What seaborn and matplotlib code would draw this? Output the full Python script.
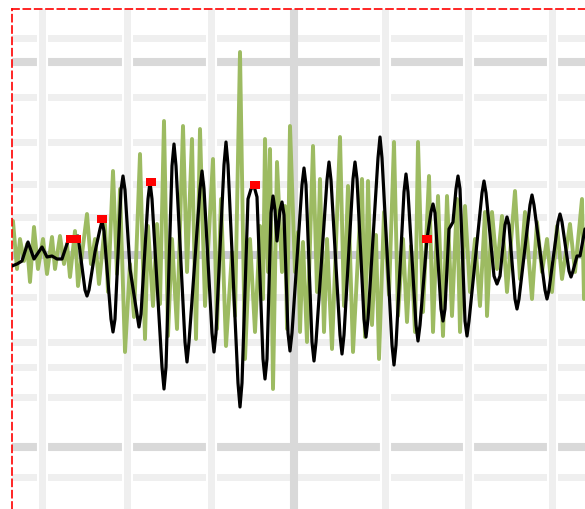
import numpy as np
import pandas as pd
import matplotlib
matplotlib.use("Agg")
import matplotlib.pyplot as plt
import seaborn as sns

# ---- data: (sample index, amplitude in counts) ----
# raw trace (green)
raw_pts = [
    (1, 34), (5, -14), (8, 16), (12, -6), (15, 11), (18, -27), (22, 28),
    (26, -14), (31, 16), (35, -19), (40, 18), (43, -14), (48, 19), (52, -9),
    (55, 11), (58, -22), (63, 24), (66, -31), (75, 41), (79, -9), (83, 16),
    (87, -29), (93, 31), (96, -37), (101, 84), (105, -19), (108, 66),
    (113, -97), (118, -9), (122, -62), (128, 101), (133, -84), (136, 29),
    (141, -51), (145, 31), (148, -49), (152, 134), (156, -81), (160, 16),
    (165, -74), (171, 129), (175, -17), (180, 116), (184, -84), (188, 126),
    (193, -51), (201, 96), (205, -74), (209, 56), (214, -91), (220, 3),
    (223, -61), (228, 203), (233, -104), (238, 16), (243, -77), (248, 29),
    (251, -44), (253, 116), (256, -17), (258, 106), (261, -134), (265, 93),
    (270, -17), (273, 49), (275, -74), (278, 129), (283, -17), (286, 23),
    (288, -77), (291, 13), (295, -87), (301, 109), (305, -37), (308, 76),
    (312, -77), (315, 16), (320, -94), (328, 118), (332, -51), (336, 69),
    (341, -97), (350, 76), (353, -82), (356, 74), (360, -70), (364, 20),
    (367, -104), (372, 43), (377, -40), (382, 113), (386, -61), (391, 16),
    (395, -67), (399, 9), (403, -77), (406, 113), (411, -57), (417, 79),
    (421, -77), (426, 59), (431, -81), (435, 59), (440, -61), (445, 56),
    (448, -77), (453, 49), (458, -37), (463, 16), (468, -51), (473, 43),
    (475, -61), (480, 43), (485, -14), (490, 39), (495, -37), (503, 64),
    (508, -24), (513, 43), (520, -44), (525, 33), (530, -17), (535, 16),
    (540, -37), (545, 29), (550, -24), (558, 31), (563, -17), (570, 56),
    (572, -44),
]

# band-passed trace (black)
bp_pts = [
    (0, -11), (5, -9), (10, -6), (16, 13), (22, -4), (30, 8), (35, -2),
    (40, -1), (45, -4), (50, -4), (56, 14), (60, 17), (66, 19), (73, -35),
    (75, -41), (77, -35), (83, 3), (88, 26), (90, 34), (92, 24), (99, -64),
    (101, -77), (103, -64), (109, 65), (111, 79), (113, 65), (118, -14),
    (125, -59), (127, -72), (129, -59), (136, 56), (138, 73), (140, 56),
    (150, -112), (152, -134), (154, -112), (160, 89), (162, 111), (164, 89),
    (173, -87), (175, -107), (177, -87), (188, 66), (190, 84), (192, 66),
    (200, -78), (202, -97), (204, -78), (212, 90), (214, 113), (216, 90),
    (226, -128), (228, -152), (230, -128), (236, 56), (239, 66), (242, 69),
    (245, 58), (251, -104), (253, -124), (255, -104), (259, 42), (261, 59),
    (263, 45), (265, 14), (268, 45), (270, 53), (272, 40), (276, -78),
    (278, -96), (280, -78), (290, 70), (292, 87), (294, 70), (300, -87),
    (302, -106), (304, -87), (315, 75), (317, 93), (319, 75), (328, -80),
    (330, -99), (332, -80), (341, 76), (343, 93), (345, 76), (352, -64),
    (354, -82), (356, -64), (366, 97), (368, 118), (370, 97), (380, -90),
    (382, -110), (384, -90), (392, 63), (394, 81), (396, 63), (404, -70),
    (406, -86), (408, -70), (415, 16), (419, 43), (421, 51), (423, 42),
    (429, -54), (431, -66), (433, -54), (437, 26), (441, 33), (444, 66),
    (446, 79), (448, 66), (453, -66), (455, -81), (457, -66), (470, 62),
    (472, 74), (474, 62), (482, -21), (485, -29), (488, -21), (493, 30),
    (495, 38), (497, 30), (503, -44), (505, -54), (507, -44), (518, 50),
    (520, 60), (522, 50), (533, -35), (535, -44), (537, -35), (546, 33),
    (548, 41), (550, 33), (557, -16), (559, -22), (561, -16), (565, -1),
    (568, -1), (573, 26),
]

# picks (red)
pick_t = [59, 64, 90, 139, 243, 415]
pick_amp = [16, 16, 36, 73, 70, 16]

# grid levels
h_light = [217, 158, 113, 71, 38, -42, -87, -112, -142, -222]
h_dark = [193, -192]
v_light = [29.7, 115.3, 198.7, 373, 456.3, 539.7]
v_dark = [282.3]

raw_df = pd.DataFrame(raw_pts, columns=["t", "amp"])
bp_df = pd.DataFrame(bp_pts, columns=["t", "amp"])
pick_df = pd.DataFrame({"t": pick_t, "amp": pick_amp})

sns.set_style("white")
fig = plt.figure(figsize=(5.85, 5.10), dpi=100)
ax = fig.add_axes([11.5 / 585, 0, 1 - 11.5 / 585, 500 / 510])

for y in h_light:
    ax.axhline(y, color="#efefef", lw=5, zorder=1)
for y in h_dark:
    ax.axhline(y, color="#d9d9d9", lw=5.8, zorder=1)
for x in v_light:
    ax.axvline(x, color="white", lw=8, zorder=1.1)
    ax.axvline(x, color="#efefef", lw=5, zorder=1.2)
for x in v_dark:
    ax.axvline(x, color="#d9d9d9", lw=5.8, zorder=1.2)
ax.axhline(0, color="#c9c9d1", lw=5.8, zorder=1.3)

sns.lineplot(data=raw_df, x="t", y="amp", sort=False, estimator=None,
             color="#9dbb62", lw=2.8, ax=ax, zorder=2)
sns.lineplot(data=bp_df, x="t", y="amp", sort=False, estimator=None,
             color="black", lw=2.3, ax=ax, zorder=3)
rect = [(-1.25, -1), (1.25, -1), (1.25, 1), (-1.25, 1)]
sns.scatterplot(data=pick_df, x="t", y="amp", marker=rect, s=45, color="red",
                edgecolor="none", linewidth=0, ax=ax, zorder=4)

ax.set_xlim(-0.5, 573)
ax.set_ylim(-254, 246)
ax.set_xticks([])
ax.set_yticks([])
ax.set_xlabel("")
ax.set_ylabel("")
ax.spines["right"].set_visible(False)
ax.spines["bottom"].set_visible(False)
for side in ["left", "top"]:
    ax.spines[side].set_color("red")
    ax.spines[side].set_linewidth(1.2)
    ax.spines[side].set_linestyle((0, (4.2, 2.6)))

fig.savefig("out.png", dpi=100)
